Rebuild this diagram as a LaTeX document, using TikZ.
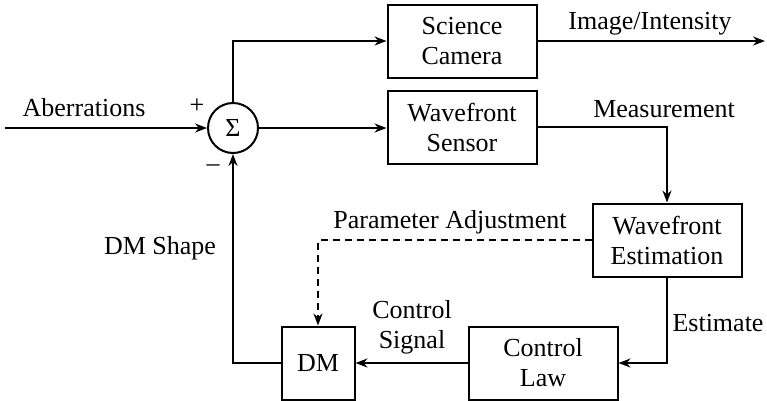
\documentclass[tikz,border=0pt]{standalone}
\usepackage{fontspec}
\setmainfont{Liberation Serif}
\usetikzlibrary{arrows.meta}
\tikzset{
	block/.style={draw, line width=2pt, minimum width=149pt, minimum height=73pt, inner sep=0pt, align=center},
	sumnode/.style={draw, circle, line width=2pt, minimum size=50pt, inner sep=0pt},
	signal/.style={line width=2pt, -{Stealth[length=12pt,width=9pt,inset=4pt]}},
	plainline/.style={line width=2pt}
}

\begin{document}
\begin{tikzpicture}[x=1pt, y=-1pt, font=\fontsize{26}{30}\selectfont]
		\useasboundingbox (0,0) rectangle (767,400);
		\coordinate (in) at (5,128);
		\coordinate (out) at (765,41);
		\node[sumnode] (sum) at (233,128) {Σ};
		\node[block] (cam) at (462,41) {Science\\Camera};
		\node[block] (wfs) at (462,127) {Wavefront\\Sensor};
		\node[block] (est) at (667,240) {Wavefront\\Estimation};
		\node[block] (law) at (543,363) {Control\\Law};
		\node[block, minimum width=73pt] (dm) at (318,363) {DM};
		\draw[signal] (in) -- (sum);
		\draw[signal] (sum.north) |- (cam.west);
		\draw[signal] (cam.east) -- (out);
		\draw[signal] (sum.east) -- (sum.east -| wfs.west);
		\draw[signal] (wfs.east) -| (est.north);
		\draw[signal] (est.south) |- (law.east);
		\draw[signal] (law.west) -- (dm.east);
		\draw[signal, dash pattern=on 7pt off 5pt] (est.west) -| (dm.north);
		\draw[signal] (dm.west) -| (sum.south);
		\node (aberr) at (84,108) {Aberrations};
		\node (plus) at (197,106) {+};
		\node (minus) at (213,168) {–};
		\node (intens) at (650,24) {Image/Intensity};
		\node (meas) at (664,109) {Measurement};
		\node (param) at (450,222) {Parameter Adjustment};
		\node (dmshape) at (160,248) {DM Shape};
		\node[align=center] (ctrlsig) at (412,327) {Control\\Signal};
		\node (estlbl) at (718,323) {Estimate};
	\end{tikzpicture}
\end{document}
